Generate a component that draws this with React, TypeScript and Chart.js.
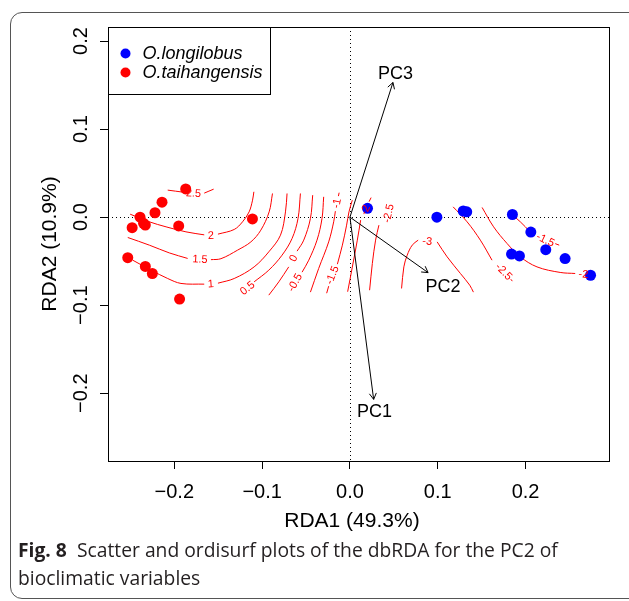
import React, { useEffect, useRef } from "react";
import { Chart, registerables } from "chart.js";

Chart.register(...registerables);

// ---------- data ----------
const X_TICKS = [-0.2, -0.1, 0, 0.1, 0.2];
const Y_TICKS = [-0.2, -0.1, 0, 0.1, 0.2];
const X_MIN = -0.2755;
const X_MAX = 0.295;
const Y_MIN = -0.277;
const Y_MAX = 0.216;

const X_TITLE = "RDA1 (49.3%)";
const Y_TITLE = "RDA2 (10.9%)";

const SPECIES = ["O.longilobus", "O.taihangensis"];

const LONGILOBUS: number[][] = [
  [0.020, 0.010], [0.099, 0.000], [0.129, 0.007], [0.133, 0.006],
  [0.185, 0.003], [0.206, -0.017], [0.184, -0.042], [0.193, -0.044],
  [0.223, -0.037], [0.245, -0.047], [0.274, -0.066],
];

const TAIHANGENSIS: number[][] = [
  [-0.187, 0.032], [-0.214, 0.017], [-0.222, 0.005], [-0.239, 0.000],
  [-0.235, -0.007], [-0.233, -0.009], [-0.248, -0.012], [-0.195, -0.010],
  [-0.111, -0.002], [-0.253, -0.046], [-0.233, -0.056], [-0.225, -0.064],
  [-0.194, -0.093],
];

const ARROW_NAMES = ["PC1", "PC2", "PC3"];
const ARROW_TIPS: number[][] = [[0.027, -0.207], [0.089, -0.063], [0.049, 0.153]];
const ARROW_LABEL_POS: number[][] = [[0.028, -0.221], [0.106, -0.079], [0.052, 0.163]];

const CONTOUR_LEVELS = ["2.5", "2", "1.5", "1", "0.5", "0", "-0.5", "-1", "-1.5", "-2", "-2.5", "-3", "-2.5", "-2", "-1.5"];

const CONTOUR_LABEL_POS: number[][] = [
  [-0.1782, 0.0267], [-0.1583, -0.0213], [-0.1708, -0.0483], [-0.1583, -0.0761],
  [-0.1166, -0.0810], [-0.0640, -0.0469], [-0.0623, -0.0744], [-0.0148, 0.0156],
  [-0.0197, -0.0659], [0.0178, 0.0080], [0.0443, 0.0042], [0.0880, -0.0278],
  [0.1750, -0.0622], [0.2659, -0.0651], [0.2224, -0.0261],
];

// contour pieces before the label gap
const CONTOUR_BEFORE: number[][][] = [
  [[-0.2075, 0.0307], [-0.1901, 0.0284]],
  [[-0.2503, 0.0034], [-0.2284, -0.0053], [-0.2094, -0.0110], [-0.1867, -0.0167], [-0.1659, -0.0201]],
  [[-0.2530, -0.0231], [-0.2284, -0.0318], [-0.2057, -0.0406], [-0.1848, -0.0469]],
  [[-0.2473, -0.0489], [-0.2265, -0.0602], [-0.2075, -0.0697], [-0.1924, -0.0753], [-0.1659, -0.0761]],
  [],
  [[-0.0924, -0.0886], [-0.0810, -0.0735], [-0.0697, -0.0565]],
  [],
  [[-0.0450, -0.0852], [-0.0356, -0.0583], [-0.0242, -0.0281], [-0.0185, -0.0053], [-0.0166, 0.0068]],
  [[-0.0265, -0.0864], [-0.0242, -0.0784]],
  [[-0.0026, -0.0847], [0.0027, -0.0568], [0.0084, -0.0261], [0.0122, -0.0034]],
  [[0.0224, -0.0830], [0.0255, -0.0526], [0.0292, -0.0261], [0.0330, -0.0091]],
  [[0.0588, -0.0810], [0.0614, -0.0565], [0.0652, -0.0432], [0.0709, -0.0318], [0.0777, -0.0261]],
  [[0.1175, 0.0117], [0.1334, -0.0053], [0.1485, -0.0261], [0.1618, -0.0489]],
  [[0.1505, 0.0110], [0.1636, -0.0110], [0.1789, -0.0299], [0.1940, -0.0451], [0.2130, -0.0565], [0.2394, -0.0628], [0.2565, -0.0640]],
  [[0.1818, 0.0053], [0.1940, -0.0053], [0.2053, -0.0167]],
];

// contour pieces after the label gap
const CONTOUR_AFTER: number[][][] = [
  [[-0.1659, 0.0273], [-0.1552, 0.0318]],
  [[-0.1503, -0.0193], [-0.1318, -0.0140], [-0.1223, -0.0053], [-0.1148, 0.0060], [-0.1109, 0.0193], [-0.1094, 0.0288]],
  [[-0.1583, -0.0483], [-0.1469, -0.0472], [-0.1280, -0.0375], [-0.1128, -0.0281], [-0.1015, -0.0148], [-0.0920, 0.0060], [-0.0882, 0.0269]],
  [[-0.1503, -0.0750], [-0.1318, -0.0697], [-0.1091, -0.0565], [-0.0924, -0.0394], [-0.0791, -0.0205], [-0.0734, 0.0060], [-0.0716, 0.0269]],
  [[-0.1091, -0.0735], [-0.0924, -0.0602], [-0.0773, -0.0432], [-0.0659, -0.0242], [-0.0591, -0.0015], [-0.0564, 0.0269]],
  [[-0.0602, -0.0386], [-0.0526, -0.0261], [-0.0450, -0.0015], [-0.0424, 0.0250]],
  [[-0.0545, -0.0625], [-0.0469, -0.0489], [-0.0375, -0.0261], [-0.0318, -0.0015], [-0.0299, 0.0231]],
  [[-0.0131, 0.0239], [-0.0123, 0.0278]],
  [[-0.0143, -0.0534], [-0.0086, -0.0318], [-0.0038, -0.0091], [-0.0011, 0.0060], [0.0027, 0.0193]],
  [[0.0218, 0.0176], [0.0241, 0.0222]],
  [],
  [[0.0993, -0.0281], [0.1107, -0.0451], [0.1258, -0.0640], [0.1364, -0.0773], [0.1406, -0.0852]],
  [[0.1832, -0.0705], [0.1849, -0.0727]],
  [],
  [[0.2338, -0.0301], [0.2383, -0.0318]],
];

const CAPTION_TAG = "Fig. 8";
const CAPTION_LINE1 = "Scatter and ordisurf plots of the dbRDA for the PC2 of";
const CAPTION_LINE2 = "bioclimatic variables";

// ---------- helpers ----------
const FONT = "'Liberation Sans', Arial, Helvetica, sans-serif";
const fmt = (v: number) => (v < -1e-9 ? "\u2212" : "") + Math.abs(v).toFixed(1);
const toPts = (arr: number[][]) => arr.map(([x, y]) => ({ x, y }));

const overlayPlugin = {
  id: "overlay",
  beforeDatasetsDraw(chart: any) {
    const { ctx, chartArea: a, scales } = chart;
    const x0 = Math.round(scales.x.getPixelForValue(0)) + 0.5;
    const y0 = Math.round(scales.y.getPixelForValue(0)) + 0.5;
    ctx.save();
    ctx.strokeStyle = "#000";
    ctx.lineWidth = 1;
    ctx.setLineDash([1, 3]);
    ctx.beginPath();
    ctx.moveTo(x0, a.top);
    ctx.lineTo(x0, a.bottom);
    ctx.moveTo(a.left, y0);
    ctx.lineTo(a.right, y0);
    ctx.stroke();
    ctx.restore();
  },
  afterDatasetsDraw(chart: any) {
    const { ctx, chartArea: a, scales } = chart;
    const sx = scales.x, sy = scales.y;
    const P = (p: number[]) => [sx.getPixelForValue(p[0]), sy.getPixelForValue(p[1])];

    // contour labels
    ctx.save();
    ctx.fillStyle = "#ff0000";
    ctx.font = `11px ${FONT}`;
    ctx.textAlign = "center";
    ctx.textBaseline = "middle";
    CONTOUR_LEVELS.forEach((lv, i) => {
      const lp = P(CONTOUR_LABEL_POS[i]);
      const b = CONTOUR_BEFORE[i], f = CONTOUR_AFTER[i];
      let p1: number[], p2: number[];
      if (b.length && f.length) {
        p1 = P(b[b.length - 1]);
        p2 = P(f[0]);
      } else {
        const arr = (b.length ? b : f).map(P);
        const dS = Math.hypot(arr[0][0] - lp[0], arr[0][1] - lp[1]);
        const dE = Math.hypot(arr[arr.length - 1][0] - lp[0], arr[arr.length - 1][1] - lp[1]);
        if (dS < dE) { p1 = arr[0]; p2 = arr[1]; } else { p1 = arr[arr.length - 2]; p2 = arr[arr.length - 1]; }
      }
      let ang = Math.atan2(p2[1] - p1[1], p2[0] - p1[0]);
      if (ang > Math.PI / 2) ang -= Math.PI;
      if (ang < -Math.PI / 2) ang += Math.PI;
      ctx.save();
      ctx.translate(lp[0], lp[1]);
      ctx.rotate(ang);
      ctx.fillText(lv, 0, 0);
      ctx.restore();
    });
    ctx.restore();

    // arrows
    const o = P([0, 0]);
    ctx.save();
    ctx.strokeStyle = "#000";
    ctx.lineWidth = 1;
    ARROW_TIPS.forEach((t) => {
      const tp = P(t);
      const ang = Math.atan2(tp[1] - o[1], tp[0] - o[0]);
      const L = 7, h = Math.PI / 6;
      ctx.beginPath();
      ctx.moveTo(o[0], o[1]);
      ctx.lineTo(tp[0], tp[1]);
      ctx.moveTo(tp[0] - L * Math.cos(ang - h), tp[1] - L * Math.sin(ang - h));
      ctx.lineTo(tp[0], tp[1]);
      ctx.lineTo(tp[0] - L * Math.cos(ang + h), tp[1] - L * Math.sin(ang + h));
      ctx.stroke();
    });
    ctx.fillStyle = "#000";
    ctx.font = `18px ${FONT}`;
    ctx.textAlign = "center";
    ctx.textBaseline = "middle";
    ARROW_NAMES.forEach((n, i) => {
      const lp = P(ARROW_LABEL_POS[i]);
      ctx.fillText(n, lp[0], lp[1]);
    });
    ctx.restore();

    // plot box
    ctx.save();
    ctx.strokeStyle = "#000";
    ctx.lineWidth = 1;
    ctx.strokeRect(Math.round(a.left) + 0.5, Math.round(a.top) + 0.5, Math.round(a.right - a.left), Math.round(a.bottom - a.top));

    // legend
    const lx = Math.round(a.left) + 0.5, ly = Math.round(a.top) + 0.5;
    ctx.fillStyle = "#fff";
    ctx.fillRect(lx, ly, 162, 67);
    ctx.strokeRect(lx, ly, 162, 67);
    const cols = ["#0000ff", "#ff0000"];
    SPECIES.forEach((s, i) => {
      const cy = ly + 26 + i * 19;
      ctx.fillStyle = cols[i];
      ctx.beginPath();
      ctx.arc(lx + 17, cy, 5, 0, Math.PI * 2);
      ctx.fill();
      ctx.fillStyle = "#000";
      ctx.font = `italic 18px ${FONT}`;
      ctx.textAlign = "left";
      ctx.textBaseline = "middle";
      ctx.fillText(s, lx + 34, cy);
    });

    // y tick labels (rotated, R style)
    ctx.fillStyle = "#000";
    ctx.font = `20px ${FONT}`;
    ctx.textAlign = "center";
    ctx.textBaseline = "middle";
    sy.ticks.forEach((t: any) => {
      const py = sy.getPixelForValue(t.value);
      ctx.save();
      ctx.translate(81, py);
      ctx.rotate(-Math.PI / 2);
      ctx.fillText(fmt(t.value), 0, 0);
      ctx.restore();
    });

    // axis titles
    ctx.font = `21px ${FONT}`;
    ctx.fillText(X_TITLE, sx.getPixelForValue(0) + 2, 521);
    ctx.save();
    ctx.translate(50, (a.top + a.bottom) / 2);
    ctx.rotate(-Math.PI / 2);
    ctx.fillText(Y_TITLE, 0, 0);
    ctx.restore();
    ctx.restore();
  },
};

export default function App() {
  const ref = useRef<HTMLCanvasElement | null>(null);

  useEffect(() => {
    if (!ref.current) return;
    const datasets: any[] = [
      {
        type: "scatter",
        label: SPECIES[0],
        data: toPts(LONGILOBUS),
        backgroundColor: "#0000ff",
        borderWidth: 0,
        pointRadius: 5.5,
        order: 0,
      },
      {
        type: "scatter",
        label: SPECIES[1],
        data: toPts(TAIHANGENSIS),
        backgroundColor: "#ff0000",
        borderWidth: 0,
        pointRadius: 5.5,
        order: 0,
      },
    ];
    CONTOUR_LEVELS.forEach((lv, i) => {
      [CONTOUR_BEFORE[i], CONTOUR_AFTER[i]].forEach((piece) => {
        if (!piece.length) return;
        datasets.push({
          type: "line",
          label: `contour ${lv}`,
          data: toPts(piece),
          borderColor: "#ff0000",
          borderWidth: 1,
          pointRadius: 0,
          tension: 0.35,
          fill: false,
          order: 1,
        });
      });
    });

    const chart = new Chart(ref.current, {
      type: "scatter",
      data: { datasets },
      options: {
        animation: false,
        responsive: false,
        devicePixelRatio: 1,
        layout: { padding: { top: 27, right: 20, left: 0, bottom: 0 } },
        plugins: { legend: { display: false }, tooltip: { enabled: false } },
        scales: {
          x: {
            type: "linear",
            position: "bottom",
            min: X_MIN,
            max: X_MAX,
            afterBuildTicks: (s: any) => { s.ticks = X_TICKS.map((v) => ({ value: v })); },
            afterFit: (s: any) => { s.height = 140; },
            grid: { display: true, drawOnChartArea: false, drawTicks: true, tickLength: 8, color: "#000", lineWidth: 1 },
            border: { display: false },
            ticks: {
              color: "#000",
              font: { family: FONT, size: 20 },
              padding: 11,
              maxRotation: 0,
              autoSkip: false,
              callback: (v: any) => fmt(Number(v)),
            },
          },
          y: {
            type: "linear",
            min: Y_MIN,
            max: Y_MAX,
            afterBuildTicks: (s: any) => { s.ticks = Y_TICKS.map((v) => ({ value: v })); },
            afterFit: (s: any) => { s.width = 108; },
            grid: { display: true, drawOnChartArea: false, drawTicks: true, tickLength: 8, color: "#000", lineWidth: 1 },
            border: { display: false },
            ticks: { display: false },
          },
        },
      },
      plugins: [overlayPlugin],
    } as any);
    return () => chart.destroy();
  }, []);

  return (
    <div style={{ position: "fixed", left: 0, top: 0, width: 629, height: 601, overflow: "hidden", background: "#fff" }}>
      <div
        style={{
          position: "absolute",
          left: 10,
          top: 12,
          width: 700,
          height: 585,
          border: "1px solid #555",
          borderRadius: 12,
        }}
      />
      <canvas ref={ref} width={629} height={601} style={{ position: "absolute", left: 0, top: 0, display: "block" }} />
      <div
        style={{
          position: "absolute",
          left: 18,
          top: 536,
          whiteSpace: "nowrap",
          fontFamily: "'Open Sans', 'Noto Sans', sans-serif",
          fontSize: 19.3,
          lineHeight: "28px",
          color: "#231f20",
        }}
      >
        <b>{CAPTION_TAG}</b>
        {"\u00a0\u00a0"}
        {CAPTION_LINE1}
        <br />
        {CAPTION_LINE2}
      </div>
    </div>
  );
}
